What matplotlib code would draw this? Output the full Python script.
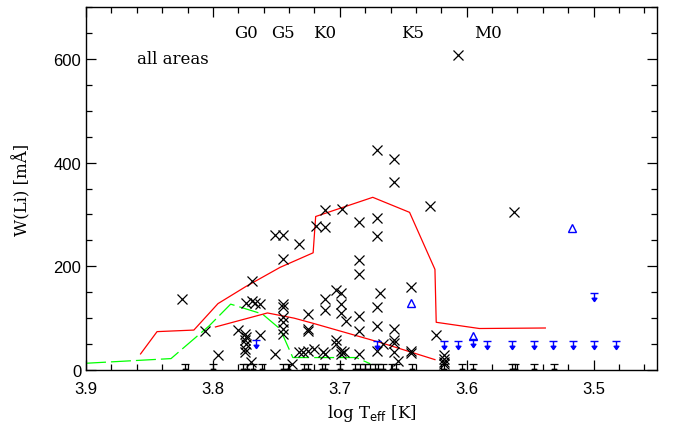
import numpy as np
import matplotlib
matplotlib.use("Agg")
import matplotlib.pyplot as plt
from matplotlib.path import Path
from matplotlib.ticker import MultipleLocator

# ---------------- data ----------------
cross_x = [3.671, 3.657, 3.657, 3.629, 3.712, 3.698, 3.671, 3.685, 3.719, 3.712,
           3.671, 3.751, 3.745, 3.732, 3.607, 3.563, 3.745, 3.769,
           3.774, 3.769, 3.767, 3.763, 3.745, 3.745,
           3.806, 3.780, 3.763,
           3.775, 3.774, 3.775, 3.774, 3.775, 3.775,
           3.745, 3.745, 3.745, 3.745,
           3.796, 3.751, 3.770, 3.738,
           3.685, 3.685, 3.703, 3.699, 3.668, 3.712, 3.712, 3.699, 3.699, 3.671,
           3.725, 3.695, 3.685, 3.725, 3.725, 3.685, 3.671, 3.703, 3.703, 3.671,
           3.732, 3.729, 3.725, 3.720, 3.713, 3.712,
           3.699, 3.697, 3.699, 3.685,
           3.644, 3.657, 3.657, 3.657, 3.666, 3.657, 3.654, 3.644, 3.644, 3.624,
           3.618, 3.618, 3.618, 3.618, 3.824]
cross_y = [425, 407, 363, 316, 308, 310, 294, 285, 277, 275,
           259, 260, 260, 243, 607, 305, 214, 172,
           130, 134, 130, 128, 127, 122,
           76, 78, 68,
           69, 63, 57, 50, 40, 35,
           102, 92, 79, 69,
           28, 31, 15, 12,
           213, 185, 154, 148, 148, 136, 116, 127, 109, 122,
           108, 94, 105, 79, 75, 76, 85, 58, 50, 37,
           34, 34, 37, 40, 34, 31,
           37, 34, 30, 31,
           161, 80, 58, 53, 50, 34, 18, 37, 33, 67,
           28, 21, 16, 12, 136]

blue_lim_x = [3.766, 3.671, 3.618, 3.607, 3.584, 3.564, 3.547, 3.532, 3.516,
              3.500, 3.482, 3.500, 3.595]
blue_lim_y = [58, 56, 56, 56, 56, 56, 56, 56, 56, 56, 56, 148, 60]

blue_tri_x = [3.644, 3.517, 3.595]
blue_tri_y = [130, 273, 66]

black_lim_x = [3.822, 3.800, 3.776, 3.773, 3.768, 3.761, 3.745, 3.741, 3.728,
               3.725, 3.714, 3.712, 3.700, 3.688, 3.684, 3.680, 3.676, 3.672,
               3.670, 3.666, 3.659, 3.656, 3.643, 3.618, 3.604, 3.595, 3.564,
               3.562, 3.547, 3.531]
black_lim_y = [12] * len(black_lim_x)

red_up_x = [3.857, 3.844, 3.815, 3.796, 3.774, 3.747, 3.721, 3.719, 3.674,
            3.645, 3.625, 3.624, 3.590, 3.538]
red_up_y = [31, 74, 77, 128, 161, 198, 226, 296, 333, 304, 194, 92, 80, 81]

red_lo_x = [3.798, 3.757, 3.736, 3.721, 3.668, 3.625]
red_lo_y = [83, 110, 100, 90, 53, 20]

green_x = [3.900, 3.833, 3.803, 3.786, 3.761, 3.747, 3.737, 3.687, 3.676]
green_y = [13, 22, 85, 127, 108, 79, 24, 24, 12]

sptype_labels = ["G0", "G5", "K0", "K5", "M0"]
sptype_x = [3.774, 3.745, 3.712, 3.643, 3.583]

# ---------------- markers ----------------
lim_verts = [(-0.5, 0), (0.5, 0), (0, 0), (0, -1.0),
             (-0.3, -0.6), (0.3, -0.6), (0, -1.0), (0, -1.0)]
lim_codes = [Path.MOVETO, Path.LINETO, Path.MOVETO, Path.LINETO,
             Path.MOVETO, Path.LINETO, Path.LINETO, Path.CLOSEPOLY]
lim_marker = Path(lim_verts, lim_codes)

# ---------------- figure ----------------
fig = plt.figure(figsize=(6.78, 4.27), dpi=100)
ax = fig.add_axes([86 / 678, 1 - 371 / 427, (657 - 86) / 678, (371 - 8) / 427])

ax.plot(green_x, green_y, color="#00ff00", lw=0.9, dashes=(16, 4))
ax.plot(red_up_x, red_up_y, color="#ff0000", lw=0.9)
ax.plot(red_lo_x, red_lo_y, color="#ff0000", lw=0.9)

ax.plot(cross_x, cross_y, ls="none", marker="x", ms=6.8, mew=0.9, color="black")
ax.plot(black_lim_x, black_lim_y, ls="none", marker=lim_marker, ms=11.5,
        mew=0.9, color="black", mfc="black", mec="black")
ax.plot(blue_lim_x, blue_lim_y, ls="none", marker=lim_marker, ms=11.5,
        mew=1.0, color="#0000ff", mfc="#0000ff", mec="#0000ff")
ax.plot(blue_tri_x, blue_tri_y, ls="none", marker="^", ms=5.5, mew=1.0,
        mfc="none", mec="#0000ff")

ax.set_xlim(3.9, 3.45)
ax.set_ylim(0, 700)

ax.xaxis.set_major_locator(MultipleLocator(0.1))
ax.xaxis.set_minor_locator(MultipleLocator(0.02))
ax.yaxis.set_major_locator(MultipleLocator(200))
ax.yaxis.set_minor_locator(MultipleLocator(50))
ax.tick_params(which="both", direction="in", top=True, right=True, width=0.9)
ax.tick_params(which="major", length=7)
ax.tick_params(which="minor", length=4)
for lab in ax.get_xticklabels() + ax.get_yticklabels():
    lab.set_fontfamily("Liberation Sans")
    lab.set_fontsize(12)
ax.tick_params(axis="x", pad=8)
for sp in ax.spines.values():
    sp.set_linewidth(1.0)

ax.set_xlabel(r"log T$_{\rm eff}$ [K]", family="DejaVu Serif", fontsize=12)
ax.set_ylabel("W(Li) [mÅ]", family="DejaVu Serif", fontsize=12, labelpad=16)

for lab, xv in zip(sptype_labels, sptype_x):
    ax.text(xv, 650, lab, ha="center", va="center", family="DejaVu Serif", fontsize=12)
ax.text(3.860, 600, "all areas", ha="left", va="center", family="DejaVu Serif", fontsize=12)

fig.savefig("out.png", dpi=100)
